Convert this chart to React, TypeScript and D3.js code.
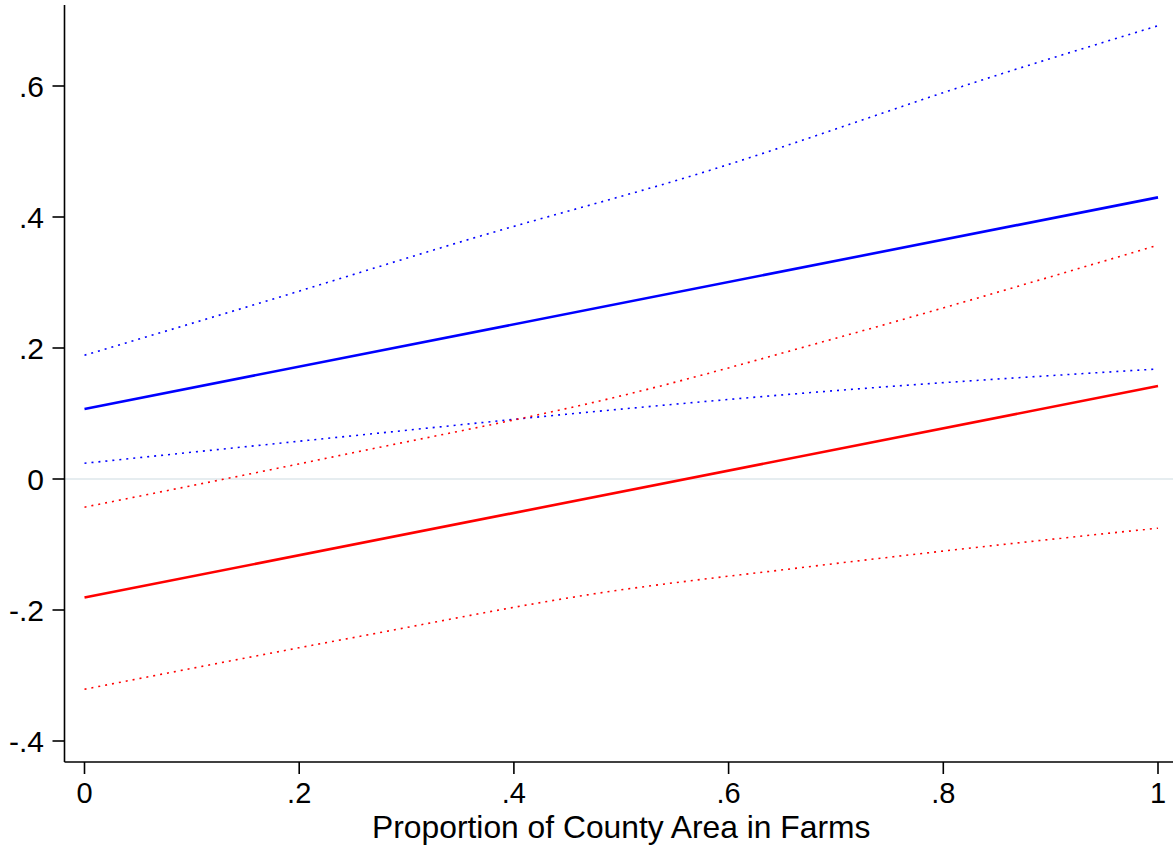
import React from "react";
import * as d3 from "d3";

const xTicks = [0, 0.2, 0.4, 0.6, 0.8, 1];
const yTicks = [-0.4, -0.2, 0, 0.2, 0.4, 0.6];

const blueFit: [number, number][] = [[0, 0.107], [1, 0.43]];
const blueUpper: [number, number][] = [[0, 0.189], [0.154, 0.264], [0.371, 0.372], [0.568, 0.464], [0.853, 0.618], [1, 0.692]];
const blueLower: [number, number][] = [[0, 0.024], [0.25, 0.066], [0.45, 0.099], [0.7, 0.135], [1, 0.168]];
const redFit: [number, number][] = [[0, -0.181], [1, 0.142]];
const redUpper: [number, number][] = [[0, -0.043], [0.25, 0.04], [0.5, 0.127], [0.7, 0.215], [1, 0.357]];
const redLower: [number, number][] = [[0, -0.321], [0.254, -0.241], [0.48, -0.174], [0.664, -0.136], [0.811, -0.108], [1, -0.075]];

const fmt = (v: number) => {
  if (v === 0) return "0";
  if (v === 1) return "1";
  const s = String(Math.round(v * 10) / 10);
  return s.replace("0.", ".");
};

export default function App() {
  const W = 1173, H = 850;
  const x = d3.scaleLinear().domain([0, 1]).range([84.5, 1158]);
  const y = d3.scaleLinear().domain([-0.4, 0.6]).range([741, 86]);
  const axisX = 64.5, axisY = 762;
  const line = d3.line<[number, number]>().x(d => x(d[0])).y(d => y(d[1])).curve(d3.curveMonotoneX);
  const font = "'Liberation Sans', Arial, Helvetica, sans-serif";
  const series = [
    { d: blueUpper, c: "#0000ff", dot: true },
    { d: blueLower, c: "#0000ff", dot: true },
    { d: redUpper, c: "#ff0000", dot: true },
    { d: redLower, c: "#ff0000", dot: true },
    { d: blueFit, c: "#0000ff", dot: false },
    { d: redFit, c: "#ff0000", dot: false },
  ];
  return (
    <svg width={W} height={H} style={{ position: "absolute", left: 0, top: 0, background: "#fff" }}>
      <rect x={0} y={0} width={W} height={H} fill="#fff" />
      <line x1={axisX} x2={W} y1={y(0)} y2={y(0)} stroke="#e6edf0" strokeWidth={2} />
      {series.map((s, i) => (
        <path key={i} d={line(s.d) || ""} fill="none" stroke={s.c}
          strokeWidth={s.dot ? 1.6 : 2.6}
          strokeDasharray={s.dot ? "2,5" : undefined} />
      ))}
      <line x1={axisX} x2={axisX} y1={5} y2={axisY} stroke="#000" strokeWidth={1.6} />
      <line x1={axisX} x2={W} y1={axisY} y2={axisY} stroke="#000" strokeWidth={1.6} />
      {yTicks.map(t => (
        <g key={"y" + t}>
          <line x1={axisX - 12} x2={axisX} y1={y(t)} y2={y(t)} stroke="#000" strokeWidth={1.6} />
          <text x={44} y={y(t)} dy="0.36em" textAnchor="end" fontFamily={font} fontSize={30} fill="#000">{fmt(t)}</text>
        </g>
      ))}
      {xTicks.map(t => (
        <g key={"x" + t}>
          <line x1={x(t)} x2={x(t)} y1={axisY} y2={axisY + 12} stroke="#000" strokeWidth={1.6} />
          <text x={x(t)} y={803} textAnchor="middle" fontFamily={font} fontSize={29} fill="#000">{fmt(t)}</text>
        </g>
      ))}
      <text x={x(0.5)} y={838} textAnchor="middle" fontFamily={font} fontSize={31.8} fill="#000">Proportion of County Area in Farms</text>
    </svg>
  );
}
